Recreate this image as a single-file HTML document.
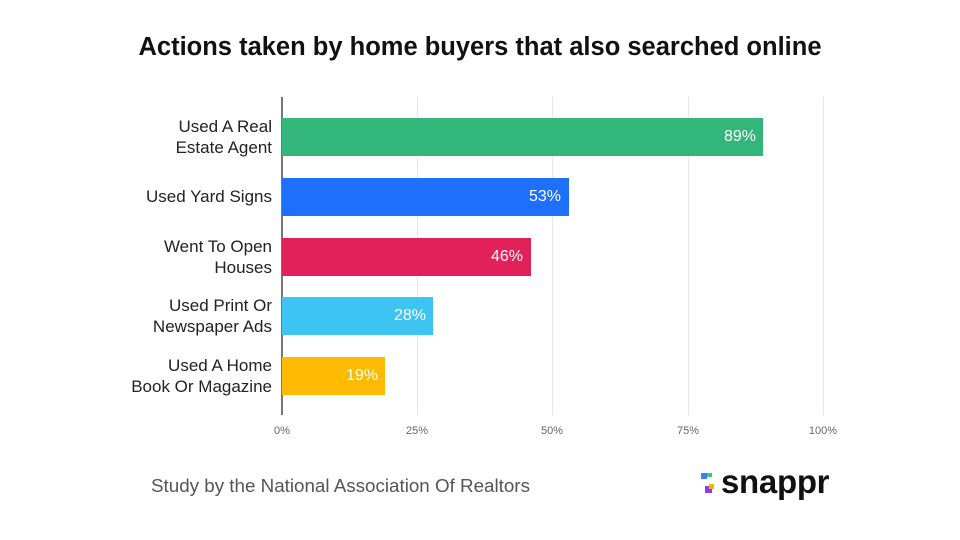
<!DOCTYPE html>
<html><head><style>
body{margin:0;width:960px;height:540px;background:#fff;font-family:"Liberation Sans",sans-serif;position:relative;overflow:hidden}
.a{position:absolute}
.t{left:0;width:960px;top:33px;text-align:center;font-size:25.5px;font-weight:bold;color:#111}
.g{width:1px;top:97px;height:318px;background:#e6e6e6}
.bar{left:282px;height:38px}
.v{color:#fff;font-size:16px;text-align:right}
.lab{right:688px;width:220px;text-align:right;font-size:17px;color:#222;line-height:21px}
.tk{top:425px;font-size:11px;color:#666;width:60px;text-align:center}
</style></head><body>
<div class="a t">Actions taken by home buyers that also searched online</div>
<div class="a g" style="left:417px"></div>
<div class="a g" style="left:552px"></div>
<div class="a g" style="left:688px"></div>
<div class="a g" style="left:823px"></div>
<div class="a" style="left:281px;top:97px;width:2px;height:318px;background:#777"></div>

<div class="a bar" style="top:118px;width:481px;background:#33b679"></div>
<div class="a bar" style="top:178px;width:287px;background:#1e6ffb"></div>
<div class="a bar" style="top:238px;width:249px;background:#e2215a"></div>
<div class="a bar" style="top:297px;width:151px;background:#3ec4f2"></div>
<div class="a bar" style="top:357px;width:103px;background:#fcbb00"></div>

<div class="a v" style="top:128px;left:700px;width:56px">89%</div>
<div class="a v" style="top:188px;left:505px;width:56px">53%</div>
<div class="a v" style="top:248px;left:467px;width:56px">46%</div>
<div class="a v" style="top:307px;left:370px;width:56px">28%</div>
<div class="a v" style="top:367px;left:322px;width:56px">19%</div>

<div class="a lab" style="top:116px">Used A Real<br>Estate Agent</div>
<div class="a lab" style="top:186px">Used Yard Signs</div>
<div class="a lab" style="top:236px">Went To Open<br>Houses</div>
<div class="a lab" style="top:295px">Used Print Or<br>Newspaper Ads</div>
<div class="a lab" style="top:355px">Used A Home<br>Book Or Magazine</div>

<div class="a tk" style="left:252px">0%</div>
<div class="a tk" style="left:387px">25%</div>
<div class="a tk" style="left:522px">50%</div>
<div class="a tk" style="left:658px">75%</div>
<div class="a tk" style="left:793px">100%</div>

<div class="a" style="left:151px;top:475px;font-size:18.8px;color:#555">Study by the National Association Of Realtors</div>
<div class="a" style="left:701px;top:473px;width:6px;height:6px;background:#3b82f6"></div>
<div class="a" style="left:707px;top:473px;width:5px;height:4px;background:#2fd07a"></div>
<div class="a" style="left:705px;top:486px;width:7px;height:7px;background:#8b3df0"></div>
<div class="a" style="left:709px;top:484px;width:5px;height:5px;background:#f5b400"></div>
<div class="a" style="left:721px;top:463px;font-size:33px;font-weight:bold;color:#111;letter-spacing:-0.3px">snappr</div>
</body></html>
